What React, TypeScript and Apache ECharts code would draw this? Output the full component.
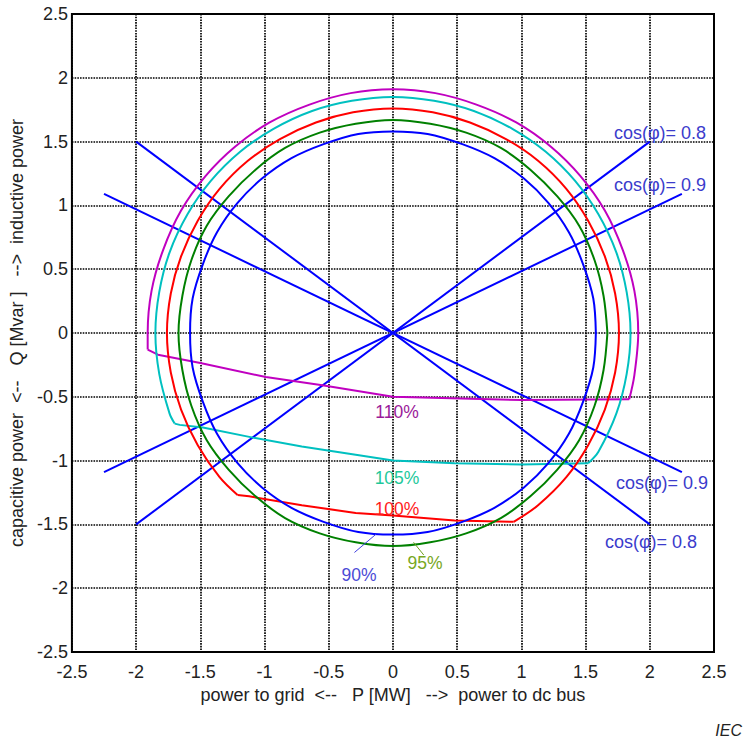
import React, { useEffect, useRef } from "react";
import * as echarts from "echarts";

// Capability curves, [P, Q] points
const curve90: number[][] = [
  [1.58, 0], [1.56, 0.27], [1.48, 0.54], [1.37, 0.79], [1.21, 1.02], [1.02, 1.21], [0.79, 1.37], [0.54, 1.48], [0.27, 1.56],
  [0, 1.58], [-0.27, 1.56], [-0.54, 1.48], [-0.79, 1.37], [-1.02, 1.21], [-1.21, 1.02], [-1.37, 0.79], [-1.48, 0.54], [-1.56, 0.27],
  [-1.58, 0], [-1.56, -0.27], [-1.48, -0.54], [-1.37, -0.79], [-1.21, -1.02], [-1.02, -1.21], [-0.79, -1.37], [-0.54, -1.48], [-0.27, -1.56],
  [0, -1.58], [0.27, -1.56], [0.54, -1.48], [0.79, -1.37], [1.02, -1.21], [1.21, -1.02], [1.37, -0.79], [1.48, -0.54], [1.56, -0.27], [1.58, 0],
];
const curve95: number[][] = [
  [1.67, 0], [1.64, 0.29], [1.57, 0.57], [1.45, 0.84], [1.28, 1.07], [1.07, 1.28], [0.84, 1.45], [0.57, 1.57], [0.29, 1.64],
  [0, 1.67], [-0.29, 1.64], [-0.57, 1.57], [-0.84, 1.45], [-1.07, 1.28], [-1.28, 1.07], [-1.45, 0.84], [-1.57, 0.57], [-1.64, 0.29],
  [-1.67, 0], [-1.64, -0.29], [-1.57, -0.57], [-1.45, -0.84], [-1.28, -1.07], [-1.07, -1.28], [-0.84, -1.45], [-0.57, -1.57], [-0.29, -1.64],
  [0, -1.67], [0.29, -1.64], [0.57, -1.57], [0.84, -1.45], [1.07, -1.28], [1.28, -1.07], [1.45, -0.84], [1.57, -0.57], [1.64, -0.29], [1.67, 0],
];
const curve100Arc: number[][] = [
  [0.94, -1.48], [1.13, -1.35], [1.35, -1.13], [1.52, -0.88], [1.65, -0.6], [1.73, -0.31],
  [1.76, 0], [1.73, 0.31], [1.65, 0.6], [1.52, 0.88], [1.35, 1.13], [1.13, 1.35], [0.88, 1.52], [0.6, 1.65], [0.31, 1.73],
  [0, 1.76], [-0.31, 1.73], [-0.6, 1.65], [-0.88, 1.52], [-1.13, 1.35], [-1.35, 1.13], [-1.52, 0.88], [-1.65, 0.6], [-1.73, 0.31],
  [-1.76, 0], [-1.73, -0.31], [-1.65, -0.6], [-1.52, -0.88], [-1.35, -1.13], [-1.21, -1.27],
];
const curve100Limit: number[][] = [
  [-1.21, -1.27], [-1.12, -1.28], [-0.71, -1.35], [-0.29, -1.41], [0, -1.43], [0.48, -1.47], [0.94, -1.48],
];
const curve105Arc: number[][] = [
  [1.52, -1.02], [1.6, -0.93], [1.74, -0.63], [1.82, -0.32],
  [1.85, 0], [1.82, 0.32], [1.74, 0.63], [1.6, 0.93], [1.42, 1.19], [1.19, 1.42], [0.93, 1.6], [0.63, 1.74], [0.32, 1.82],
  [0, 1.85], [-0.32, 1.82], [-0.63, 1.74], [-0.93, 1.6], [-1.19, 1.42], [-1.42, 1.19], [-1.6, 0.93], [-1.74, 0.63], [-1.82, 0.32],
  [-1.85, 0], [-1.82, -0.32], [-1.74, -0.63], [-1.7, -0.71],
];
const curve105Limit: number[][] = [
  [-1.7, -0.71], [-1.66, -0.72], [-1.48, -0.74], [-1.09, -0.82], [-0.71, -0.89], [-0.29, -0.955], [0, -1.0], [0.48, -1.02], [1.0, -1.03], [1.52, -1.02],
];
const curve110Arc: number[][] = [
  [1.84, -0.52], [1.88, -0.33],
  [1.91, 0], [1.88, 0.33], [1.79, 0.65], [1.65, 0.96], [1.46, 1.23], [1.23, 1.46], [0.96, 1.65], [0.65, 1.79], [0.33, 1.88],
  [0, 1.91], [-0.33, 1.88], [-0.65, 1.79], [-0.96, 1.65], [-1.23, 1.46], [-1.46, 1.23], [-1.65, 0.96], [-1.79, 0.65], [-1.88, 0.33],
  [-1.91, 0], [-1.91, -0.13],
];
const curve110Limit: number[][] = [
  [-1.91, -0.13], [-1.83, -0.17], [-1.5, -0.235], [-0.99, -0.345], [-0.55, -0.41], [0, -0.5], [1.0, -0.525], [1.84, -0.52],
];

// Power factor lines
const cos08a: number[][] = [[-2, -1.5], [2, 1.5]];
const cos08b: number[][] = [[-2, 1.5], [2, -1.5]];
const cos09a: number[][] = [[-2.25, -1.09], [2.25, 1.09]];
const cos09b: number[][] = [[-2.25, 1.09], [2.25, -1.09]];

// Label leader lines
const leader90: number[][] = [[-0.3, -1.72], [-0.13, -1.575]];
const leader95: number[][] = [[0.16, -1.64], [0.24, -1.74]];

const axisMin = -2.5;
const axisMax = 2.5;
const axisStep = 0.5;

const xTitle = "power to grid  <--   P [MW]   -->  power to dc bus";
const yTitle = "capacitive power  <--   Q [Mvar ]   -->  inductive power";
const labelCos08 = "cos(φ)= 0.8";
const labelCos09 = "cos(φ)= 0.9";
const pctLabels = ["110%", "105%", "100%", "90%", "95%"];
const sourceLabel = "IEC";

const FONT = "'Liberation Sans', Arial, Helvetica, sans-serif";

export default function App() {
  const ref = useRef<HTMLDivElement>(null);
  useEffect(() => {
    const chart = echarts.init(ref.current!, null, { renderer: "svg" });
    const lineSeries = (data: number[][], color: string, width = 2, smooth: boolean | number = false) => ({
      type: "line",
      data,
      showSymbol: false,
      symbol: "none",
      silent: true,
      clip: false,
      smooth,
      z: 3,
      lineStyle: { color, width },
    });
    const txt = (text: string, x: number, y: number, fill: string, size = 17, extra: any = {}) => ({
      type: "text",
      x,
      y,
      silent: true,
      z: 100,
      style: {
        text,
        fill,
        fontSize: size,
        fontFamily: FONT,
        align: "center",
        verticalAlign: "middle",
        textAlign: "center",
        textVerticalAlign: "middle",
        ...extra,
      },
    });
    const axisCommon = {
      type: "value",
      min: axisMin,
      max: axisMax,
      interval: axisStep,
      axisLine: { show: false },
      axisTick: { show: false },
      splitLine: { show: true, lineStyle: { color: "#000", width: 1.7, type: [1.6, 1.1] } },
      nameTextStyle: { fontSize: 18, color: "#222", fontFamily: FONT },
    };
    const SM = 0.33;
    chart.setOption({
      animation: false,
      backgroundColor: "#fff",
      grid: { left: 69, top: 14, width: 645, height: 638, show: true, borderColor: "#000", borderWidth: 2, backgroundColor: "transparent", z: 10 },
      xAxis: {
        ...axisCommon,
        name: xTitle,
        nameLocation: "middle",
        nameGap: 33,
        axisLabel: { fontSize: 18, color: "#222", margin: 11, fontFamily: FONT },
      },
      yAxis: {
        ...axisCommon,
        name: yTitle,
        nameLocation: "middle",
        nameGap: 35,
        axisLabel: { fontSize: 18, color: "#222", margin: 4, fontFamily: FONT },
      },
      series: [
        lineSeries(cos08a, "#0000ff"),
        lineSeries(cos08b, "#0000ff"),
        lineSeries(cos09a, "#0000ff"),
        lineSeries(cos09b, "#0000ff"),
        lineSeries(curve110Arc, "#c000c0", 2, SM),
        lineSeries(curve110Limit, "#c000c0"),
        lineSeries(curve105Arc, "#00c0c0", 2, SM),
        lineSeries(curve105Limit, "#00c0c0"),
        lineSeries(curve100Arc, "#ff0000", 2, SM),
        lineSeries(curve100Limit, "#ff0000"),
        lineSeries(curve95, "#008000", 2, SM),
        lineSeries(curve90, "#0000ff", 2, SM),
        lineSeries(leader90, "#4040e0", 1),
        lineSeries(leader95, "#70a020", 1),
      ],
      graphic: [
        txt(labelCos08, 660, 133, "#3b3bcc", 18),
        txt(labelCos09, 660, 185, "#3b3bcc", 18),
        txt(labelCos09, 662, 483, "#3b3bcc", 18),
        txt(labelCos08, 651, 542, "#3b3bcc", 18),
        txt(pctLabels[0], 397, 412, "#9a1a9a", 17.5),
        txt(pctLabels[1], 397, 478, "#1ec89a", 17.5),
        txt(pctLabels[2], 397, 509, "#ff1a1a", 17.5),
        txt(pctLabels[3], 359, 575, "#4b4bd6", 17.5),
        txt(pctLabels[4], 425, 563, "#78a81e", 17.5),
        txt(sourceLabel, 742, 730, "#222", 16, { align: "right", textAlign: "right", fontStyle: "italic" }),
      ],
    });
    return () => chart.dispose();
  }, []);
  return <div ref={ref} style={{ position: "fixed", left: 0, top: 0, width: 745, height: 738 }} />;
}
